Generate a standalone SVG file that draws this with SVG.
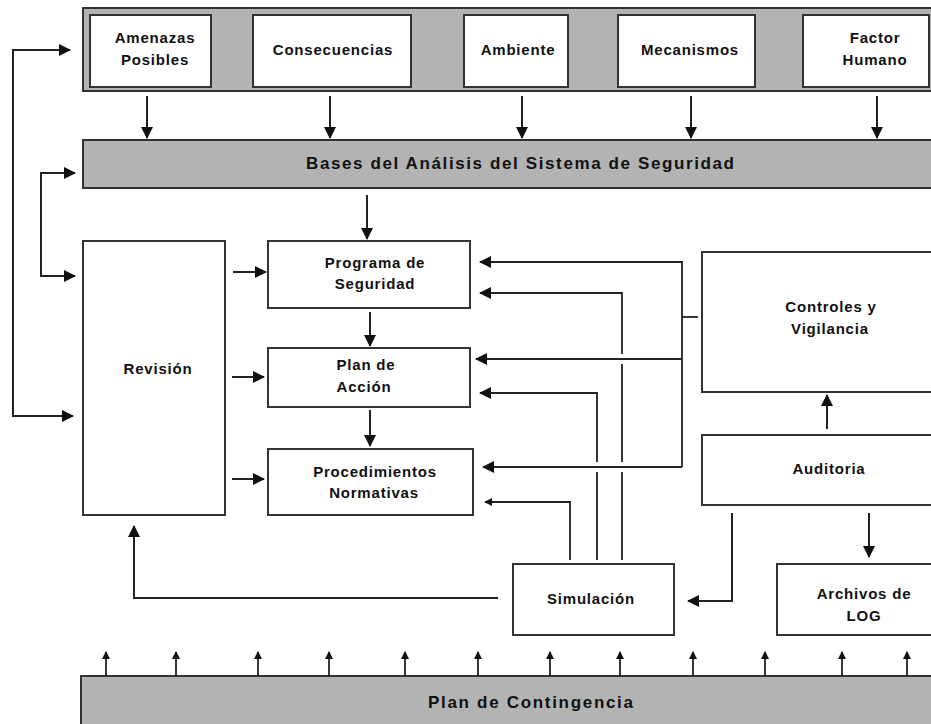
<svg xmlns="http://www.w3.org/2000/svg" width="931" height="724" viewBox="0 0 931 724">
<defs>
<style>
.band{fill:#b3b3b3;stroke:#333;stroke-width:2}
.box{fill:#fff;stroke:#333;stroke-width:2}
.lbl{font-family:"Liberation Sans",Arial,sans-serif;font-weight:bold;font-size:15px;letter-spacing:0.8px;fill:#111;text-anchor:middle}
.big{font-family:"Liberation Sans",Arial,sans-serif;font-weight:bold;font-size:17px;fill:#111}
.ln{fill:none;stroke:#222;stroke-width:2}
.thin{fill:none;stroke:#222;stroke-width:1.8}
.a{marker-end:url(#ah)}
.as{marker-start:url(#ah)}
.sm{marker-end:url(#ahs)}
</style>
<marker id="ah" markerUnits="userSpaceOnUse" markerWidth="12" markerHeight="12" refX="11" refY="6" orient="auto-start-reverse" viewBox="0 0 12 12">
<path d="M0,0 L12,6 L0,12 z" fill="#111"/>
</marker>
<marker id="ahs" markerUnits="userSpaceOnUse" markerWidth="8" markerHeight="8" refX="7" refY="4" orient="auto" viewBox="0 0 8 8">
<path d="M0,0 L8,4 L0,8 z" fill="#111"/>
</marker>
</defs>

<g id="top-band">
<rect class="band" x="83" y="8" width="852" height="83"/>
</g>
<g id="amenazas">
<rect class="box" x="90" y="15" width="121" height="72"/>
<text class="lbl" x="155" y="43">Amenazas</text>
<text class="lbl" x="155" y="65">Posibles</text>
</g>
<g id="consecuencias">
<rect class="box" x="253" y="15" width="158" height="72"/>
<text class="lbl" x="333" y="55">Consecuencias</text>
</g>
<g id="ambiente">
<rect class="box" x="464" y="15" width="104" height="72"/>
<text class="lbl" x="518" y="55">Ambiente</text>
</g>
<g id="mecanismos">
<rect class="box" x="618" y="15" width="137" height="72"/>
<text class="lbl" x="690" y="55">Mecanismos</text>
</g>
<g id="factor-humano">
<rect class="box" x="803" y="15" width="126" height="72"/>
<text class="lbl" x="875" y="43">Factor</text>
<text class="lbl" x="875" y="65">Humano</text>
</g>

<g id="bases">
<rect class="band" x="83" y="140" width="852" height="48"/>
<text class="big" x="306" y="169" font-size="16" textLength="428" lengthAdjust="spacing">Bases del Análisis del Sistema de Seguridad</text>
</g>

<g id="revision">
<rect class="box" x="83" y="241" width="142" height="274"/>
<text class="lbl" x="158" y="374">Revisión</text>
</g>
<g id="programa">
<rect class="box" x="268" y="241" width="202" height="67"/>
<text class="lbl" x="375" y="268">Programa de</text>
<text class="lbl" x="375" y="289">Seguridad</text>
</g>
<g id="plan-accion">
<rect class="box" x="268" y="348" width="202" height="59"/>
<text class="lbl" x="366" y="370">Plan de</text>
<text class="lbl" x="364" y="392">Acción</text>
</g>
<g id="procedimientos">
<rect class="box" x="268" y="449" width="205" height="66"/>
<text class="lbl" x="375" y="477">Procedimientos</text>
<text class="lbl" x="374" y="498">Normativas</text>
</g>
<g id="controles">
<rect class="box" x="702" y="252" width="235" height="140"/>
<text class="lbl" x="831" y="312">Controles y</text>
<text class="lbl" x="830" y="334">Vigilancia</text>
</g>
<g id="auditoria">
<rect class="box" x="702" y="435" width="235" height="70"/>
<text class="lbl" x="829" y="474">Auditoria</text>
</g>
<g id="simulacion">
<rect class="box" x="513" y="564" width="161" height="71"/>
<text class="lbl" x="591" y="604">Simulación</text>
</g>
<g id="archivos">
<rect class="box" x="777" y="564" width="160" height="71"/>
<text class="lbl" x="864" y="599">Archivos de</text>
<text class="lbl" x="864" y="621">LOG</text>
</g>
<g id="contingencia">
<rect class="band" x="81" y="676" width="854" height="52"/>
<text class="big" x="428" y="708" textLength="205" lengthAdjust="spacing">Plan de Contingencia</text>
</g>

<g id="connectors">
<path class="ln a" d="M147,96 V138"/>
<path class="ln a" d="M330,96 V138"/>
<path class="ln a" d="M522,96 V138"/>
<path class="ln a" d="M691,96 V138"/>
<path class="ln a" d="M877,96 V138"/>
<path class="ln a" d="M367,195 V239"/>

<path class="ln as a" d="M70,50 H13 V416 H73"/>
<path class="ln as a" d="M75,173 H41 V276 H75"/>

<path class="ln a" d="M233,272 H266"/>
<path class="ln a" d="M232,377 H264"/>
<path class="ln a" d="M232,479 H264"/>
<path class="ln a" d="M370,312 V346"/>
<path class="ln a" d="M370,410 V446"/>

<path class="thin" d="M698,317 H682"/>
<path class="thin as" d="M480,262 H682 V467"/>
<path class="thin a" d="M682,359 H476"/>
<path class="thin a" d="M682,467 H483"/>

<path class="thin as" d="M480,293 H622 V354 M622,364 V462 M622,472 V560"/>
<path class="thin as" d="M480,393 H597 V462 M597,472 V560"/>
<path class="thin" d="M489,502 H570 V560"/>
<path class="thin sm" d="M492,502 H485"/>

<path class="ln a" d="M498,598 H134 V526"/>
<path class="ln a" d="M732,513 V601 H688"/>
<path class="ln a" d="M827,429 V395"/>
<path class="ln a" d="M869,513 V557"/>

<path class="thin sm" d="M106,676 V652"/>
<path class="thin sm" d="M176,676 V652"/>
<path class="thin sm" d="M258,676 V652"/>
<path class="thin sm" d="M329,676 V652"/>
<path class="thin sm" d="M405,676 V652"/>
<path class="thin sm" d="M478,676 V652"/>
<path class="thin sm" d="M550,676 V652"/>
<path class="thin sm" d="M620,676 V652"/>
<path class="thin sm" d="M693,676 V652"/>
<path class="thin sm" d="M765,676 V652"/>
<path class="thin sm" d="M842,676 V652"/>
<path class="thin sm" d="M907,676 V652"/>
</g>
</svg>
